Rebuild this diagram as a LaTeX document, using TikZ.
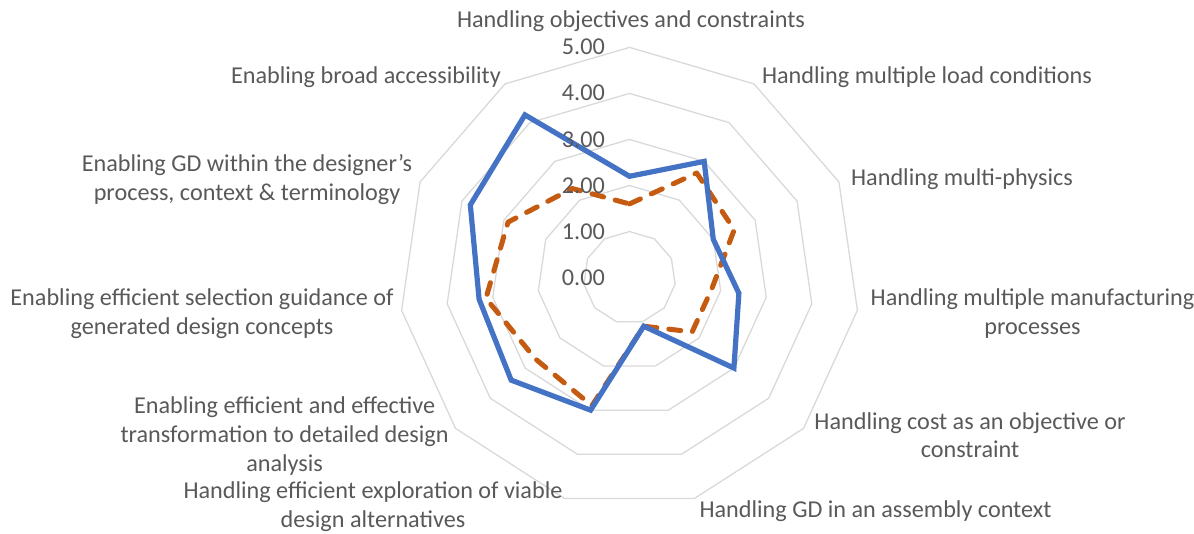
\documentclass[tikz,border=0pt]{standalone}
\usepackage{fontspec}
\setmainfont{Carlito}
\definecolor{gridgray}{HTML}{D9D9D9}
\definecolor{labelgray}{HTML}{595959}
\definecolor{seriesblue}{HTML}{4472C4}
\definecolor{seriesorange}{HTML}{C55A11}
\begin{document}
\begin{tikzpicture}[x=1pt,y=-1pt,
  ring/.style={draw=gridgray, line width=1.3pt, line join=miter},
  catlabel/.style={text=labelgray, font=\fontsize{24.2}{28.9}\selectfont, align=center, inner sep=0pt, anchor=base},
  vallabel/.style={text=labelgray, font=\fontsize{24.2}{28.9}\selectfont, inner sep=0pt, anchor=base east},
  seriesA/.style={draw=seriesblue, line width=5.2pt, line join=miter},
  seriesB/.style={draw=seriesorange, line width=5pt, line cap=round, line join=round, dash pattern=on 12pt off 12pt}]
\useasboundingbox (0,0) rectangle (1194,533);

% radar grid and data, centred on the chart origin, y pointing up
\begin{scope}[shift={(629.5,277.6)}, yscale=-1]
  \def\unit{46.05}
  % concentric rings 1..5
  \foreach \r in {1,...,5}{
    \draw[ring] (90:\r*\unit)
      \foreach \k in {1,...,10}{ -- ({90-\k*360/11}:\r*\unit) } -- cycle;
  }
  % series values, clockwise from the top axis
  \foreach \v [count=\k from 0] in {2.2,3.0,2.0,2.4,3.0,1.1,3.0,3.4,3.3,3.8,4.2}{
    \coordinate (b\k) at ({90-\k*360/11}:\v*\unit);
  }
  \foreach \v [count=\k from 0] in {1.6,2.7,2.5,1.8,1.8,1.1,2.9,2.7,3.15,2.9,2.3}{
    \coordinate (o\k) at ({90-\k*360/11}:\v*\unit);
  }
  \draw[seriesB] (o0) -- (o1) -- (o2) -- (o3) -- (o4) -- (o5) -- (o6) -- (o7) -- (o8) -- (o9) -- (o10) -- cycle;
  \draw[seriesA] (b0) -- (b1) -- (b2) -- (b3) -- (b4) -- (b5) -- (b6) -- (b7) -- (b8) -- (b9) -- (b10) -- cycle;
\end{scope}

% radial axis values
\node[vallabel] (v0) at (605,285.1) {0.00};
\node[vallabel] (v1) at (605,239.1) {1.00};
\node[vallabel] (v2) at (605,193.0) {2.00};
\node[vallabel] (v3) at (605,147.0) {3.00};
\node[vallabel] (v4) at (605,100.9) {4.00};
\node[vallabel] (v5) at (605,54.9) {5.00};

% category labels (anchored on the baseline of their last line)
\node[catlabel] (c0) at (631,27.5) {Handling objectives and constraints};
\node[catlabel] (c1) at (927,83.3) {Handling multiple load conditions};
\node[catlabel] (c2) at (962,185.4) {Handling multi-physics};
\node[catlabel] (c3) at (1032.5,334.3) {Handling multiple manufacturing\\processes};
\node[catlabel] (c4) at (970,457.9) {Handling cost as an objective or\\constraint};
\node[catlabel] (c5) at (875.5,517) {Handling GD in an assembly context};
\node[catlabel] (c6) at (373,527.5) {Handling efficient exploration of viable\\design alternatives};
\node[catlabel] (c7) at (284.6,471.1) {Enabling efficient and effective\\transformation to detailed design\\analysis};
\node[catlabel] (c8) at (202,334.3) {Enabling efficient selection guidance of\\generated design concepts};
\node[catlabel] (c9) at (247,200.7) {Enabling GD within the designer’s\\process, context \& terminology};
\node[catlabel] (c10) at (366,83.3) {Enabling broad accessibility};
\end{tikzpicture}
\end{document}
